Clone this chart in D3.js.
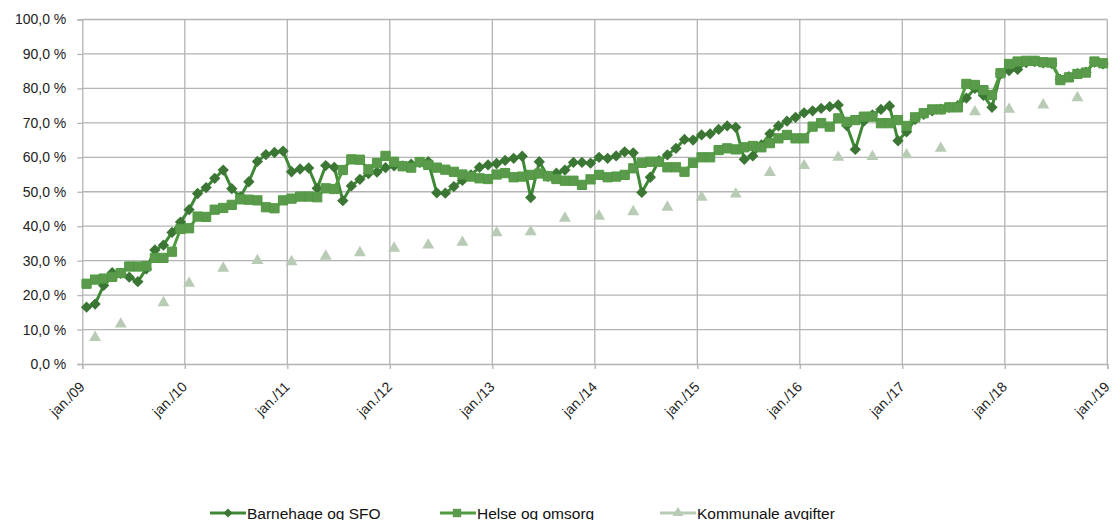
<!DOCTYPE html>
<html>
<head>
<meta charset="utf-8">
<script src="https://cdn.jsdelivr.net/npm/d3@7"></script>
<style>
  body { margin: 0; background: #fff; overflow: hidden; }
  text { font-family: "Liberation Sans", Arial, sans-serif; }
</style>
</head>
<body>
<script>
var width = 1115;
var height = 520;

// tick labels (one per january)
var yearLabels = ["jan./09","jan./10","jan./11","jan./12","jan./13","jan./14",
                  "jan./15","jan./16","jan./17","jan./18","jan./19"];

// monthly values jan 2009 - dec 2018 (%)
var barnehage = [
  16.5, 17.4, 22.8, 26.5, 26.3, 25.2, 23.9, 27.6, 33.1, 34.5, 38.2, 41.2,
  44.8, 49.5, 51.2, 53.9, 56.3, 50.9, 48.5, 52.9, 58.8, 60.8, 61.4, 61.8,
  55.8, 56.6, 56.9, 51.0, 57.6, 57.1, 47.4, 51.7, 53.6, 55.3, 55.7, 57.0,
  57.5, 57.5, 58.0, 58.5, 58.7, 49.7, 49.6, 51.5, 53.3, 54.9, 57.1, 57.8,
  58.2, 59.1, 59.7, 60.3, 48.3, 58.7, 54.5, 55.4, 56.3, 58.5, 58.5, 58.3,
  60.0, 59.7, 60.4, 61.6, 61.3, 49.8, 54.2, 59.0, 60.7, 62.6, 65.2, 65.0,
  66.5, 66.8, 68.1, 69.1, 68.7, 59.4, 60.4, 63.6, 66.8, 69.1, 70.5, 71.6,
  72.9, 73.5, 74.2, 74.7, 75.2, 69.2, 62.3, 70.5, 72.3, 73.9, 74.9, 64.8,
  67.4, 71.0, 72.5, 73.5, 74.0, 74.5, 75.0, 77.2, 80.0, 78.0, 74.5, 84.2,
  85.2, 85.5, 87.5, 87.8, 87.4, 87.2, 82.6, 83.4, 84.3, 84.7, 87.6, 87.1
];

var helse = [
  23.3, 24.5, 24.8, 25.3, 26.4, 28.3, 28.3, 28.4, 30.8, 30.8, 32.6, 39.2,
  39.4, 42.8, 42.7, 44.8, 45.3, 46.2, 47.8, 47.7, 47.5, 45.5, 45.2, 47.5,
  48.0, 48.6, 48.6, 48.4, 51.0, 50.8, 56.3, 59.4, 59.3, 56.5, 58.3, 60.4,
  58.7, 57.4, 57.0, 58.6, 57.8, 57.0, 56.4, 55.8, 55.0, 54.4, 53.9, 53.7,
  55.0, 55.4, 54.2, 54.4, 54.9, 55.3, 54.5, 53.7, 53.2, 53.2, 52.0, 53.6,
  54.9, 54.2, 54.4, 54.9, 56.8, 58.4, 58.7, 58.7, 57.1, 57.1, 55.8, 58.4,
  60.0, 60.0, 62.1, 62.6, 62.3, 62.9, 63.3, 62.9, 64.1, 65.5, 66.5, 65.5,
  65.5, 68.9, 69.9, 68.9, 71.3, 70.3, 70.8, 71.8, 71.8, 69.9, 69.9, 70.8,
  69.1, 71.6, 72.8, 73.9, 73.9, 74.5, 74.5, 81.3, 81.0, 79.5, 78.1, 84.4,
  87.1, 87.8, 88.0, 88.0, 87.6, 87.5, 82.4, 83.2, 84.2, 84.6, 87.8, 87.3
];

// kommunale avgifter: only some months (month index from jan 2009)
var kommunaleMonth = [1, 4, 9, 12, 16, 20, 24, 28, 32, 36, 40, 44, 48, 52, 56,
                      60, 64, 68, 72, 76, 80, 84, 88, 92, 96, 100, 104, 108, 112, 116];
var kommunale = [7.7, 11.6, 17.8, 23.4, 27.8, 30.0, 29.7, 31.3, 32.3, 33.6, 34.5, 35.3, 38.1, 38.4, 42.3,
                 42.9, 44.2, 45.5, 48.4, 49.3, 55.6, 57.6, 60.0, 60.2, 60.7, 62.6, 73.2, 73.9, 75.2, 77.3];

var seriesNames = ["Barnehage og SFO", "Helse og omsorg", "Kommunale avgifter"];

var colBarnLine = "#3f8836", colBarnMark = "#3b7634";
var colHelseLine = "#4f9b3f", colHelseMark = "#5b9a4d";
var colKomm = "#b8cbb5";
var gridCol = "#b4b4b4";

var margin = {top: 19.5, left: 82.3, right: 7.7, bottom: 156};

var svg = d3.select("body")
  .append("svg")
  .attr("width", width)
  .attr("height", height);

var xScale = d3.scaleLinear()
  .domain([0, 120])
  .range([margin.left, width - margin.right]);

var yScale = d3.scaleLinear()
  .domain([0, 100])
  .range([height - margin.bottom, margin.top]);

// horizontal grid
svg.append("g")
  .selectAll("line")
  .data(d3.range(10, 101, 10))
  .enter()
  .append("line")
    .attr("x1", xScale(0)).attr("x2", xScale(120))
    .attr("y1", function(d) { return yScale(d); })
    .attr("y2", function(d) { return yScale(d); })
    .attr("stroke", gridCol).attr("stroke-width", 1.3);

// vertical grid
svg.append("g")
  .selectAll("line")
  .data(d3.range(12, 121, 12))
  .enter()
  .append("line")
    .attr("x1", function(d) { return xScale(d); })
    .attr("x2", function(d) { return xScale(d); })
    .attr("y1", yScale(0)).attr("y2", yScale(100))
    .attr("stroke", gridCol).attr("stroke-width", 1.3);

// y axis
var yAxis = svg.append("g")
  .attr("transform", "translate(" + margin.left + ",0)")
  .call(d3.axisLeft(yScale)
    .tickValues(d3.range(0, 101, 10))
    .tickSize(5)
    .tickPadding(11)
    .tickFormat(function(d) { return d3.format(".1f")(d).replace(".", ",") + " %"; }));

// x axis
var xAxis = svg.append("g")
  .attr("transform", "translate(0," + yScale(0) + ")")
  .call(d3.axisBottom(xScale)
    .tickValues(d3.range(0, 121, 12))
    .tickSize(5)
    .tickFormat(function(d, i) { return yearLabels[i]; }));

svg.selectAll(".domain").attr("stroke", gridCol).attr("stroke-width", 1.3);
svg.selectAll(".tick line").attr("stroke", gridCol).attr("stroke-width", 1.3);
yAxis.selectAll("text")
  .attr("font-size", "14px").attr("fill", "#222");
xAxis.selectAll("text")
  .attr("font-size", "14px").attr("fill", "#222")
  .attr("text-anchor", "end")
  .attr("dy", "0")
  .attr("transform", "translate(-3,18) rotate(-45)");

function mx(i) { return xScale(i + 0.5); }

// Barnehage og SFO
var lineB = d3.line()
  .x(function(d, i) { return mx(i); })
  .y(function(d) { return yScale(d); });

svg.append("path")
  .datum(barnehage)
  .attr("d", lineB)
  .attr("fill", "none")
  .attr("stroke", colBarnLine)
  .attr("stroke-width", 3)
  .attr("stroke-linejoin", "round");

var diamond = d3.symbol().type(d3.symbolSquare).size(64);
svg.append("g")
  .selectAll("path")
  .data(barnehage)
  .enter()
  .append("path")
    .attr("d", diamond)
    .attr("transform", function(d, i) {
      return "translate(" + mx(i) + "," + yScale(d) + ") rotate(45)";
    })
    .attr("fill", colBarnMark);

// Helse og omsorg
svg.append("path")
  .datum(helse)
  .attr("d", lineB)
  .attr("fill", "none")
  .attr("stroke", colHelseLine)
  .attr("stroke-width", 3)
  .attr("stroke-linejoin", "round");

var square = d3.symbol().type(d3.symbolSquare).size(85);
svg.append("g")
  .selectAll("path")
  .data(helse)
  .enter()
  .append("path")
    .attr("d", square)
    .attr("transform", function(d, i) {
      return "translate(" + mx(i) + "," + yScale(d) + ")";
    })
    .attr("fill", colHelseMark)
    .attr("stroke", colHelseLine)
    .attr("stroke-width", 1);

// Kommunale avgifter (markers only)
var tri = d3.symbol().type(d3.symbolTriangle).size(62);
svg.append("g")
  .selectAll("path")
  .data(kommunale)
  .enter()
  .append("path")
    .attr("d", tri)
    .attr("transform", function(d, i) {
      return "translate(" + mx(kommunaleMonth[i]) + "," + yScale(d) + ")";
    })
    .attr("fill", colKomm);

// legend
var legendX = [210, 440, 660];
var legendY = 513;
var legend = svg.append("g");
seriesNames.forEach(function(name, k) {
  var g = legend.append("g").attr("transform", "translate(" + legendX[k] + "," + legendY + ")");
  var lc = [colBarnLine, colHelseLine, colKomm][k];
  g.append("line")
    .attr("x1", 0).attr("x2", 36).attr("y1", 0).attr("y2", 0)
    .attr("stroke", lc).attr("stroke-width", 3);
  if (k === 0) {
    g.append("path").attr("d", d3.symbol().type(d3.symbolSquare).size(40))
      .attr("transform", "translate(18,0) rotate(45)").attr("fill", colBarnMark);
  } else if (k === 1) {
    g.append("path").attr("d", d3.symbol().type(d3.symbolSquare).size(70))
      .attr("transform", "translate(17,0)").attr("fill", colHelseMark);
  } else {
    g.append("path").attr("d", d3.symbol().type(d3.symbolTriangle).size(50))
      .attr("transform", "translate(18,0)").attr("fill", colKomm);
  }
  g.append("text")
    .attr("x", 37).attr("y", 5.5)
    .attr("font-size", "15.5px").attr("fill", "#111")
    .text(name);
});
</script>
</body>
</html>
